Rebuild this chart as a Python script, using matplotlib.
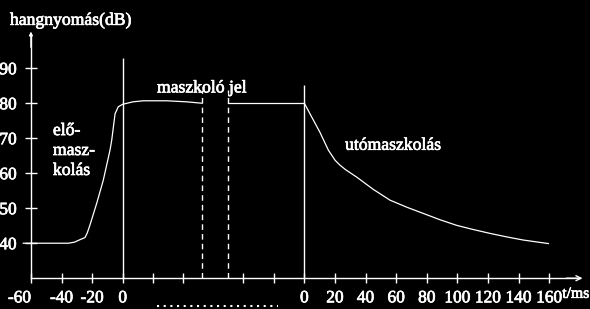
import numpy as np
import matplotlib
matplotlib.use('Agg')
import matplotlib.pyplot as plt
import matplotlib.patheffects as pe

# Schematic: pre-masking, masker, post-masking (broken time axis)
plt.rcParams['font.family'] = ['Liberation Serif', 'DejaVu Serif']

# pre-masking curve (ms before masker onset, dB)
pre_t = [-65, -35.5, -31.5, -28, -24.7, -23.2, -21.4, -17, -12.7, -8.3, -7.2, -5, -2.9, 0,
         6.7, 13.5, 28.8, 41.8, 51.8]
pre_db = [40, 40, 40.3, 41, 41.6, 42.9, 45.2, 51.4, 58, 66.6, 69.4, 77, 79, 79.7,
          80.4, 80.7, 80.7, 80.4, 80]

# masker level after the break, until masker offset
hold_t = [69.0, 0]
hold_db = [80, 80]

# post-masking curve (ms after masker offset, dB)
post_t = [0, 10.3, 15.7, 20.1, 23.3, 27, 34.2, 45, 56.0, 66.9, 77.8, 88.7, 99.6,
          110.5, 121.4, 132.3, 143.2, 151.3, 159.5]
post_db = [80, 71.6, 66.6, 63.7, 62.3, 61.0, 58.9, 55.4, 52.3, 50.3, 48.5, 46.7, 45.1,
           43.9, 42.8, 41.8, 40.9, 40.4, 39.9]

offset = 118.7          # position of the masker offset on the drawn time axis
gap = [52.0, 69.0]      # dashed lines marking the break in the masker

yticks = [40, 50, 60, 70, 80, 90]
left_ticks = [-60, -40, -20, 0]
mid_ticks = [19.6, 39.2, 78.8, 99.1]
right_ticks = [0, 20, 40, 60, 80, 100, 120, 140, 160]

fig = plt.figure(figsize=(5.9, 3.09), dpi=100, facecolor='black')
ax = fig.add_axes([0, 0, 1, 1], facecolor='black')
ax.set_xlim(-80.2, 305.4)
ax.set_ylim(21.2, 109.5)

w = 'white'
ax.plot(pre_t, pre_db, color=w, lw=0.9)
ax.plot([hold_t[0], offset + hold_t[1]], hold_db, color=w, lw=0.9)
ax.plot(offset + np.array(post_t), post_db, color=w, lw=0.9)

ax.vlines(0, 30, 92.9, color=w, lw=1.0)
ax.vlines(offset, 30, 85.2, color=w, lw=1.0)
ax.vlines(gap, 30, 83.8, color=w, lw=1.0, linestyles=(0, (4, 3)))

# axes
for s in ['top', 'right']:
    ax.spines[s].set_visible(False)
ax.spines['left'].set_position(('data', -60))
ax.spines['bottom'].set_position(('data', 30))
ax.spines['left'].set_bounds(30, 99.5)
ax.spines['bottom'].set_bounds(-60, 299)
for s in ['left', 'bottom']:
    ax.spines[s].set_color(w)
    ax.spines[s].set_linewidth(1.0)
ax.annotate('', xy=(300.5, 30), xytext=(290, 30),
            arrowprops=dict(arrowstyle='->', color=w, lw=1.0, shrinkA=0, shrinkB=0,
                            mutation_scale=9))
ax.annotate('', xy=(-60, 100.5), xytext=(-60, 96),
            arrowprops=dict(arrowstyle='-|>', color=w, lw=1.0, shrinkA=0, shrinkB=0,
                            mutation_scale=5))

ax.set_yticks(yticks)
ax.set_yticklabels([str(v) for v in yticks])
xt = left_ticks + mid_ticks + [offset + v for v in right_ticks]
xl = [str(v) for v in left_ticks] + [''] * len(mid_ticks) + [str(v) for v in right_ticks]
ax.set_xticks(xt)
ax.set_xticklabels(xl)
ax.tick_params(axis='y', direction='inout', length=8.6, width=1.0, color=w,
               labelcolor=w, labelsize=12.5, pad=6)
ax.tick_params(axis='x', direction='inout', length=6.5, width=1.0, color=w,
               labelcolor=w, labelsize=12.5, pad=5.5)
ax.get_xticklabels()[0].set_ha('right')

# slightly heavier glyphs, like the original
thick = [pe.withStroke(linewidth=0.5, foreground=w)]
for lab in ax.get_xticklabels() + ax.get_yticklabels():
    lab.set_path_effects(thick)

# break in the time axis
ax.plot([22.4, 101.5], [22.2, 22.2], color=w, lw=1.5, ls=(0, (1, 2.2)))

fs = 12.7
ax.text(-73.7, 102.4, 'hangnyomás(dB)', color=w, fontsize=fs, path_effects=thick)
ax.text(22.4, 83.1, 'maszkoló jel', color=w, fontsize=fs, path_effects=thick)
for i, line in enumerate(['elő-', 'masz-', 'kolás']):
    ax.text(-45.6, 70.9 - 5.7 * i, line, color=w, fontsize=fs, path_effects=thick)
ax.text(145.3, 66.7, 'utómaszkolás', color=w, fontsize=fs, path_effects=thick)
ax.text(305, 24.4, 't/ms', color=w, fontsize=11.3, ha='right', path_effects=thick)

fig.savefig('out.png', dpi=100, facecolor='black')
